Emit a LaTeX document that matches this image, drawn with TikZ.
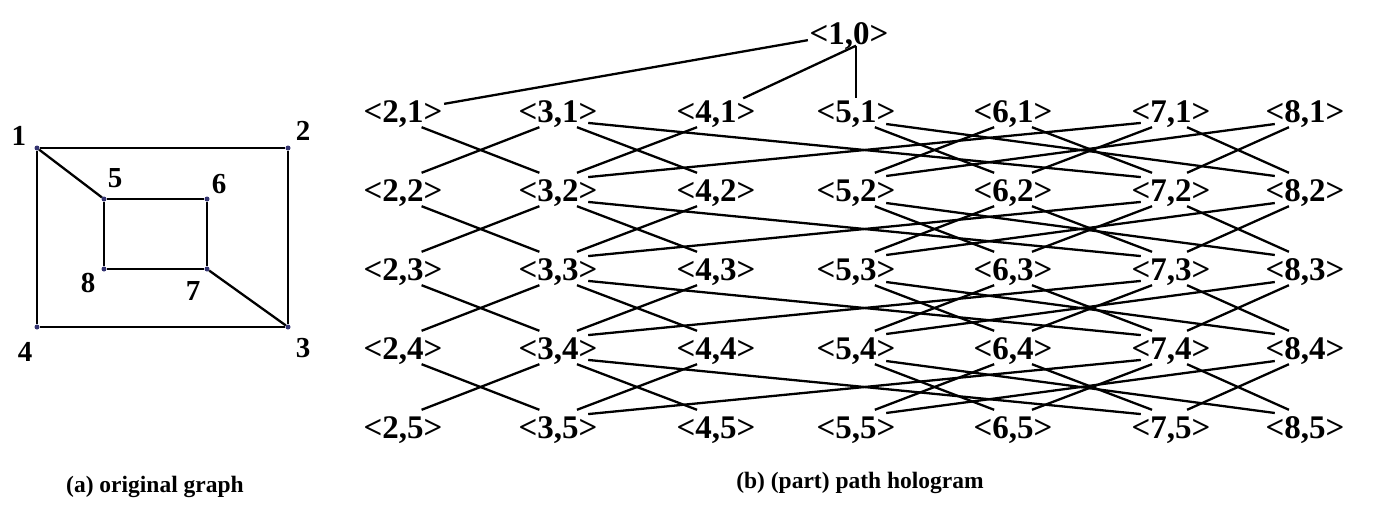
\documentclass[tikz,border=0pt]{standalone}
\usepackage{fontspec}
\setmainfont{Liberation Serif}
\begin{document}
\begin{tikzpicture}[x=1pt,y=-1pt,
  lab/.style={font=\fontsize{33}{38}\selectfont\bfseries, inner sep=1.5pt, text height=22pt, text depth=0pt},
  vlab/.style={font=\fontsize{29}{33}\selectfont\bfseries, inner sep=0pt},
  captext/.style={font=\fontsize{23.5}{28}\selectfont\bfseries, inner sep=0pt},
  port/.style={draw=none, rectangle, inner sep=0pt, minimum width=60pt, minimum height=14pt},
  edge/.style={line width=2.3pt},
  gedge/.style={line width=2.3pt},
  vert/.style={circle, fill=black!70!blue!80, inner sep=0pt, minimum size=5pt}]
\useasboundingbox (0,0) rectangle (1379,506);
% ---- (a) original graph ----
\node[vert] (v1) at (37,148) {};
\node[vert] (v2) at (288,148) {};
\node[vert] (v3) at (288,327) {};
\node[vert] (v4) at (37,327) {};
\node[vert] (v5) at (104,199) {};
\node[vert] (v6) at (207,199) {};
\node[vert] (v7) at (207,269) {};
\node[vert] (v8) at (104,269) {};
\draw[gedge] (v1) -- (v2) -- (v3) -- (v4) -- (v1);
\draw[gedge] (v5) -- (v6) -- (v7) -- (v8) -- (v5);
\draw[gedge] (v1) -- (v5);
\draw[gedge] (v3) -- (v7);
\node[vlab] (l1) at (19,136) {1};
\node[vlab] (l2) at (303,131) {2};
\node[vlab] (l3) at (303,348) {3};
\node[vlab] (l4) at (25,352) {4};
\node[vlab] (l5) at (115,178) {5};
\node[vlab] (l6) at (219,184) {6};
\node[vlab] (l7) at (193,291) {7};
\node[vlab] (l8) at (88,283) {8};
\node[captext] (capa) at (155,487) {(a) original graph};
% ---- (b) path hologram ----
\node[lab] (n10) at (849,33) {<1,0>};
\foreach \v/\x in {2/403,3/558,4/716,5/856,6/1013,7/1171,8/1305}{
  \foreach \k/\y in {1/111,2/190,3/269,4/348,5/427}{
    \node[lab] (n\v\k) at (\x,\y) {<\v,\k>};
    \node[port] (b\v\k) at ([yshift=-9pt]n\v\k.center) {};
    \node[port] (t\v\k) at ([yshift=10pt]n\v\k.center) {};
  }
}
\coordinate (c10) at (n10.south -| n51.north);
\draw[edge] (n10) -- (n21);
\draw[edge] (c10) -- (n41);
\draw[edge] (c10) -- (n51.north);
\foreach \k in {1,2,3,4}{
  \pgfmathtruncatemacro\kk{\k+1}
  \foreach \a/\b in {2/3,3/2,3/4,3/7,4/3,5/6,5/8,6/5,6/7,7/3,7/6,7/8,8/5,8/7}{
    \draw[edge] (b\a\k) -- (t\b\kk);
  }
}
\node[captext] (capb) at (860,483) {(b) (part) path hologram};
\end{tikzpicture}
\end{document}
